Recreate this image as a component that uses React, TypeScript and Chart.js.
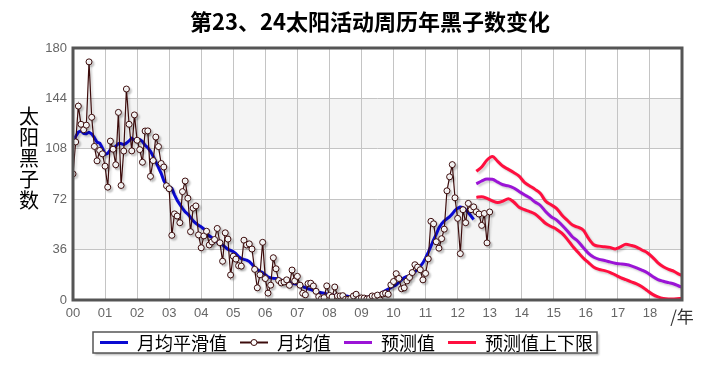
import { useEffect, useRef } from 'react';
import { Chart, registerables } from 'chart.js';

Chart.register(...registerables);

const TITLE = '第23、24太阳活动周历年黑子数变化';
const Y_TITLE = '太阳黑子数';
const X_TICK_LABELS = ['00', '01', '02', '03', '04', '05', '06', '07', '08', '09', '10', '11', '12', '13', '14', '15', '16', '17', '18', '/年'];
const Y_MAX = 180;
const Y_STEP = 36;

// Monthly mean sunspot number, 2000-01 .. 2013-01
const monthlyMean = [
  90.1, 112.9, 138.5, 125.5, 121.6, 124.9, 170.1, 130.5, 109.7, 99.4, 106.8, 104.4,
  95.6, 80.6, 113.5, 107.7, 96.6, 134.0, 81.8, 106.4, 150.7, 125.5, 106.5, 132.2,
  114.1, 107.4, 98.4, 120.7, 120.8, 88.3, 99.6, 116.4, 109.6, 97.5, 95.0, 81.6,
  79.5, 46.2, 61.5, 60.0, 55.2, 77.4, 85.0, 72.7, 48.8, 65.6, 67.2, 46.5,
  37.3, 45.8, 49.1, 39.3, 41.5, 43.2, 51.1, 40.9, 27.7, 48.0, 43.5, 17.9,
  31.3, 29.2, 24.5, 24.2, 42.7, 39.3, 40.1, 36.4, 21.9, 8.7, 18.0, 41.2,
  15.3, 4.9, 10.6, 30.2, 22.3, 13.9, 12.2, 12.9, 14.4, 10.5, 21.4, 13.6,
  16.9, 10.6, 4.8, 3.7, 11.7, 12.0, 10.0, 6.2, 2.4, 0.9, 1.7, 10.1,
  3.3, 2.1, 9.3, 2.9, 2.9, 3.1, 0.5, 0.5, 1.1, 2.9, 4.1, 0.8,
  1.5, 1.4, 0.7, 1.2, 2.9, 2.6, 3.5, 0.0, 4.3, 4.8, 4.1, 10.8,
  13.2, 18.8, 15.4, 8.0, 8.7, 13.6, 16.1, 19.6, 25.2, 23.5, 21.6, 14.4,
  19.0, 29.4, 56.2, 54.4, 41.6, 37.0, 43.8, 50.6, 78.0, 88.0, 96.7, 73.0,
  58.3, 33.1, 64.5, 55.2, 69.0, 64.5, 66.5, 63.0, 61.4, 53.3, 61.8, 40.8,
  62.9,
];

// 13-month smoothed sunspot number, 2000-01 .. 2012-07
const smoothed = [
  112.9, 116.8, 119.9, 120.8, 119.0, 118.7, 119.8, 118.6, 115.9, 112.7, 112.1, 108.6,
  104.0, 104.8, 107.5, 108.6, 109.8, 111.7, 111.7, 111.0, 112.0, 113.6, 115.6, 114.2,
  114.5, 114.6, 113.3, 110.5, 108.8, 106.2, 102.7, 98.7, 94.6, 90.5, 85.2, 82.0,
  80.8, 79.7, 75.1, 71.1, 68.3, 65.5, 63.0, 61.4, 59.0, 56.5, 54.8, 53.3,
  52.3, 50.7, 47.5, 45.8, 44.6, 43.5, 41.5, 40.2, 39.4, 37.8, 36.2, 35.4,
  34.5, 33.0, 31.0, 29.6, 29.0, 28.5, 27.5, 25.5, 23.2, 21.8, 20.5, 19.6,
  18.0, 16.5, 15.8, 15.5, 15.3, 15.0, 14.2, 13.8, 13.3, 12.5, 12.0, 11.6,
  11.2, 10.6, 9.6, 8.8, 8.0, 7.4, 6.7, 6.0, 5.5, 5.2, 4.8, 4.3,
  4.0, 3.6, 3.3, 3.1, 3.0, 2.9, 2.8, 2.6, 2.2, 1.9, 1.7, 1.7,
  1.8, 1.9, 2.0, 2.2, 2.4, 2.8, 3.5, 4.3, 5.5, 6.8, 7.8, 8.8,
  9.8, 10.8, 12.5, 14.5, 16.0, 16.8, 17.2, 18.5, 20.0, 21.8, 24.0, 26.5,
  30.0, 34.0, 38.5, 43.0, 47.0, 51.5, 54.5, 56.5, 58.0, 59.5, 61.5, 64.0,
  65.5, 66.5, 66.0, 64.5, 62.5, 60.0, 57.5,
];

// Prediction months (months since 2000-01)
const predMonths = [
  151, 153, 155, 157, 159, 161, 163, 165, 167, 169, 171, 173, 175, 177, 179, 181, 183, 185, 187, 189,
  191, 193, 195, 197, 199, 201, 203, 205, 207, 209, 211, 213, 215, 217, 219, 221, 223, 225, 227, 228,
];
const predicted = [
  83, 85, 86.4, 86.2, 84.2, 82.3, 81.5, 80, 77.5, 75.2, 73, 70, 67.5, 63, 59.5, 57.2, 53.6, 49.5, 45, 42,
  37.5, 33.3, 30.5, 29, 28.2, 27.2, 26.2, 25.8, 25.3, 24.4, 23, 21.4, 19.5, 16.8, 14.6, 13.4, 12.4, 11.4, 9.8, 9.2,
];
const upperBound = [
  92, 95, 100, 102.5, 99, 95.5, 93.3, 91, 88.5, 84, 81.5, 79, 76, 70.5, 68, 65.5, 60.7, 57, 53.5, 52,
  50, 44, 39.5, 38.5, 38, 37.6, 36.5, 38, 39.8, 39, 37.8, 35.7, 33.8, 30.5, 26.5, 23.8, 21.9, 20.5, 18.3, 17.5,
];
const lowerBound = [
  73.3, 73.8, 72.6, 70.8, 69.6, 70.6, 72.3, 70, 66.2, 64.5, 63.2, 61.4, 58.2, 54.6, 52.5, 50.6, 47.7, 43.5, 38.5, 34.2,
  30, 26.7, 23.4, 21.8, 21, 19.8, 17.9, 16, 14.5, 13, 11.5, 9.5, 6.7, 4, 2.2, 1.1, 0.8, 0.8, 1, 1,
];

const C_SMOOTH = '#0a0ad2';
const C_MONTH = '#3c0c0c';
const C_PRED = '#9b14d6';
const C_BOUND = '#ff0f3f';
const CJK = '"Noto Sans CJK SC", "Noto Sans", sans-serif';
const LATIN = '"Liberation Sans", Arial, sans-serif';

const decorPlugin = {
  id: 'decor',
  beforeDraw(chart: any) {
    const { ctx, chartArea: a, scales } = chart;
    ctx.save();
    ctx.fillStyle = '#ffffff';
    ctx.fillRect(0, 0, chart.width, chart.height);
    const y = scales.y;
    ctx.fillStyle = '#f4f4f4';
    [[36, 72], [108, 144]].forEach(([lo, hi]) => {
      const top = y.getPixelForValue(hi);
      const bot = y.getPixelForValue(lo);
      ctx.fillRect(a.left, top, a.right - a.left, bot - top);
    });
    ctx.restore();
  },
  beforeDatasetsDraw(chart: any) {
    const ctx = chart.ctx;
    ctx.save();
    ctx.shadowColor = 'rgba(0,0,0,0.18)';
    ctx.shadowOffsetX = 2;
    ctx.shadowOffsetY = 2;
    ctx.shadowBlur = 2;
  },
  afterDatasetsDraw(chart: any) {
    chart.ctx.restore();
  },
  afterDraw(chart: any) {
    const { ctx, chartArea: a } = chart;
    ctx.save();
    // frame
    ctx.strokeStyle = '#555555';
    ctx.lineWidth = 3;
    ctx.strokeRect(a.left, a.top, a.right - a.left, a.bottom - a.top);

    // title
    ctx.fillStyle = '#000';
    ctx.font = `bold 22px ${CJK}`;
    ctx.textAlign = 'center';
    ctx.textBaseline = 'middle';
    ctx.fillText(TITLE, 370, 22);

    // y title (vertical characters)
    ctx.font = `20px ${CJK}`;
    Array.from(Y_TITLE).forEach((ch, i) => {
      ctx.fillText(ch, 29, 116 + i * 21);
    });

    // legend
    const items: { label: string; color: string; point: boolean }[] = [];
    chart.data.datasets.forEach((ds: any) => {
      if (!items.find((it) => it.label === ds.label)) {
        items.push({ label: ds.label, color: ds.borderColor, point: (ds.pointRadius || 0) > 0 });
      }
    });
    const bx = 93, by = 332, bw = 504, bh = 21;
    ctx.save();
    ctx.shadowColor = 'rgba(0,0,0,0.3)';
    ctx.shadowOffsetX = 2;
    ctx.shadowOffsetY = 2;
    ctx.shadowBlur = 2;
    ctx.fillStyle = '#fff';
    ctx.fillRect(bx, by, bw, bh);
    ctx.restore();
    ctx.strokeStyle = '#555';
    ctx.lineWidth = 1.5;
    ctx.strokeRect(bx, by, bw, bh);
    ctx.font = `18px ${CJK}`;
    ctx.textAlign = 'left';
    ctx.textBaseline = 'middle';
    let x = 100;
    const cy = by + bh / 2;
    items.forEach((it) => {
      ctx.strokeStyle = it.color;
      ctx.lineWidth = it.point ? 2 : 3;
      ctx.beginPath();
      ctx.moveTo(x, cy);
      ctx.lineTo(x + 28, cy);
      ctx.stroke();
      if (it.point) {
        ctx.beginPath();
        ctx.arc(x + 14, cy, 3, 0, Math.PI * 2);
        ctx.fillStyle = '#fff';
        ctx.fill();
        ctx.lineWidth = 1;
        ctx.stroke();
      }
      x += 37;
      ctx.fillStyle = '#000';
      ctx.fillText(it.label, x, cy + 1);
      x += ctx.measureText(it.label).width + 13;
    });
    ctx.restore();
  },
};

export default function App() {
  const ref = useRef<HTMLCanvasElement | null>(null);

  useEffect(() => {
    if (!ref.current) return;
    const toPts = (xs: number[], ys: number[]) => ys.map((v, i) => ({ x: xs[i] / 12, y: v }));
    const monthIdx = (n: number) => Array.from({ length: n }, (_, i) => i);

    const chart = new Chart(ref.current, {
      type: 'line',
      data: {
        datasets: [
          {
            label: '月均平滑值',
            data: toPts(monthIdx(smoothed.length), smoothed),
            borderColor: C_SMOOTH,
            borderWidth: 3,
            pointRadius: 0,
            borderJoinStyle: 'round',
            order: 1,
          },
          {
            label: '月均值',
            data: toPts(monthIdx(monthlyMean.length), monthlyMean),
            borderColor: C_MONTH,
            borderWidth: 1.2,
            pointRadius: 3,
            pointBorderWidth: 1,
            pointBackgroundColor: '#ffffff',
            pointBorderColor: C_MONTH,
            order: 0,
          },
          {
            label: '预测值',
            data: toPts(predMonths, predicted),
            borderColor: C_PRED,
            borderWidth: 3,
            pointRadius: 0,
            cubicInterpolationMode: 'monotone',
            borderJoinStyle: 'round',
            order: 2,
          },
          {
            label: '预测值上下限',
            data: toPts(predMonths, upperBound),
            borderColor: C_BOUND,
            borderWidth: 3,
            pointRadius: 0,
            cubicInterpolationMode: 'monotone',
            borderJoinStyle: 'round',
            order: 3,
          },
          {
            label: '预测值上下限',
            data: toPts(predMonths, lowerBound),
            borderColor: C_BOUND,
            borderWidth: 3,
            pointRadius: 0,
            cubicInterpolationMode: 'monotone',
            borderJoinStyle: 'round',
            order: 3,
          },
        ] as any,
      },
      options: {
        responsive: false,
        animation: false,
        layout: { padding: { top: 48, right: 20, left: 0, bottom: 0 } },
        plugins: {
          legend: { display: false },
          title: { display: false },
          tooltip: { enabled: false },
        },
        scales: {
          x: {
            type: 'linear',
            min: 0,
            max: X_TICK_LABELS.length - 1,
            afterFit: (s: any) => { s.height = 81; },
            afterBuildTicks: (s: any) => {
              s.ticks = X_TICK_LABELS.map((_, i) => ({ value: i }));
            },
            ticks: {
              autoSkip: false,
              maxRotation: 0,
              padding: 6,
              callback: (v: any) => X_TICK_LABELS[Math.round(Number(v))],
              font: (c: any) => (c.tick && c.tick.value === X_TICK_LABELS.length - 1
                ? { family: CJK, size: 17 }
                : { family: LATIN, size: 13 }),
              color: (c: any) => (c.tick && c.tick.value === X_TICK_LABELS.length - 1 ? '#333' : '#666'),
            },
            grid: { color: '#c4c4c4', lineWidth: 1, drawTicks: false },
            border: { display: false },
          },
          y: {
            type: 'linear',
            min: 0,
            max: Y_MAX,
            afterFit: (s: any) => { s.width = 73; },
            ticks: {
              stepSize: Y_STEP,
              padding: 6,
              font: { family: LATIN, size: 13 },
              color: '#666',
            },
            grid: { color: '#c4c4c4', lineWidth: 1, drawTicks: false },
            border: { display: false },
          },
        },
      } as any,
      plugins: [decorPlugin],
    });
    return () => chart.destroy();
  }, []);

  return (
    <div style={{ position: 'fixed', left: 0, top: 0, width: 702, height: 381, background: '#fff' }}>
      <canvas ref={ref} width={702} height={381} style={{ display: 'block' }} />
    </div>
  );
}
